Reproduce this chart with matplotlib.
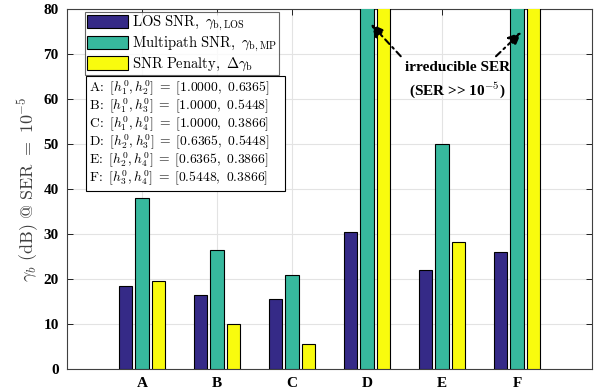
import numpy as np
import matplotlib
matplotlib.use("Agg")
import matplotlib.pyplot as plt
from matplotlib.patches import Rectangle

plt.rcParams['mathtext.fontset'] = 'cm'
plt.rcParams['font.family'] = ['Liberation Serif', 'DejaVu Serif']

categories = ['A', 'B', 'C', 'D', 'E', 'F']
# irreducible SER cases are drawn as bars that run past the axis top
IRR = 200.0
los_snr = [18.5, 16.5, 15.5, 30.5, 22.0, 26.0]
mp_snr = [38.0, 26.5, 21.0, IRR, 50.0, IRR]
penalty = [19.5, 10.0, 5.5, IRR, 28.2, IRR]
series_labels = [r'$\mathrm{LOS\ SNR},\ \gamma_{\mathrm{b,LOS}}$',
                 r'$\mathrm{Multipath\ SNR},\ \gamma_{\mathrm{b,MP}}$',
                 r'$\mathrm{SNR\ Penalty},\ \Delta\gamma_{\mathrm{b}}$']
pair_names = ['A', 'B', 'C', 'D', 'E', 'F']
pair_idx = [('1', '2'), ('1', '3'), ('1', '4'), ('2', '3'), ('2', '4'), ('3', '4')]
pair_vals = [('1.0000', '0.6365'), ('1.0000', '0.5448'), ('1.0000', '0.3866'),
             ('0.6365', '0.5448'), ('0.6365', '0.3866'), ('0.5448', '0.3866')]
colors = ['#352a87', '#37b89d', '#f9fb0e']

fig = plt.figure(figsize=(6.1, 3.92), dpi=100)
ax = fig.add_axes([67/610, 1-369/392, (592-67)/610, (369-9)/392])

x = np.arange(1, len(categories)+1)
w = 0.178
off = 0.223
for i, (vals, c, lab) in enumerate(zip([los_snr, mp_snr, penalty], colors, series_labels)):
    ax.bar(x + (i-1)*off, vals, width=w, color=c, edgecolor='black', linewidth=0.8,
           label=lab, zorder=3)

ax.set_xlim(0, 7)
ax.set_ylim(0, 80)
ax.set_xticks(x)
ax.set_xticklabels(categories, fontweight='bold', fontsize=11)
ax.set_yticks(np.arange(0, 81, 10))
ax.set_yticklabels([str(v) for v in range(0, 81, 10)], fontweight='bold', fontsize=11)
ax.tick_params(direction='in', top=True, right=True, length=4, width=0.6, pad=6)
ax.grid(True, color='#e3e3e3', linewidth=0.8, zorder=0)
for s in ax.spines.values():
    s.set_linewidth(0.8)
    s.set_color('#404040')
ax.set_ylabel(r'$\gamma_b\ \mathrm{(dB)\ @\ SER}\ =\ 10^{-5}$', fontsize=13, color='#404040', labelpad=2)

leg = ax.legend(loc='upper left', bbox_to_anchor=(18/525, 1-3/360), fontsize=10.5,
                frameon=True, fancybox=False, edgecolor='#404040', borderpad=0.15,
                handlelength=2.8, handleheight=1.0, labelspacing=0.12, handletextpad=0.3,
                borderaxespad=0)
leg.get_frame().set_linewidth(0.8)

# info box
bx0, bx1 = (86-67)/525, (285-67)/525
by0, by1 = 1-(191-9)/360, 1-(76-9)/360
ax.add_patch(Rectangle((bx0, by0), bx1-bx0, by1-by0, transform=ax.transAxes,
                       facecolor='white', edgecolor='black', linewidth=0.8, zorder=5))
line_y = [88, 106, 124, 142, 160, 178]
for n, (a, b), (v1, v2), py in zip(pair_names, pair_idx, pair_vals, line_y):
    s = (r'$\mathrm{' + n + r'}\!:\ [h_' + a + r'^0, h_' + b + r'^0]\;=\;[' +
         v1 + r',\ ' + v2 + r']$')
    ax.text((89-67)/525, 1-(py-9)/360, s, transform=ax.transAxes, fontsize=9.8,
            va='center', ha='left', zorder=6)

ax.text(5.21, 66.9, 'irreducible SER', ha='center', va='center', fontsize=11, fontweight='bold', zorder=6)
ax.text(5.21, 62.0, r'(SER >> 10$^{\mathbf{-5}}$)', ha='center', va='center', fontsize=11, fontweight='bold', zorder=6)
arrow = dict(arrowstyle='-|>,head_length=0.8,head_width=0.35', color='black', lw=1.5,
             linestyle=(0, (3, 2, 1, 2)), shrinkA=0, shrinkB=0)
ax.annotate('', xy=(4.05, 76.7), xytext=(4.45, 69.5), arrowprops=arrow, zorder=6)
ax.annotate('', xy=(6.06, 74.9), xytext=(5.72, 69.5), arrowprops=arrow, zorder=6)

fig.savefig('out.png', dpi=100)
